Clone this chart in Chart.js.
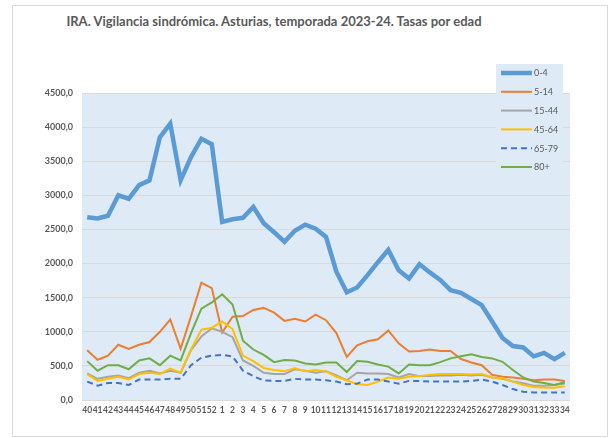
<!DOCTYPE html>
<html>
<head>
<meta charset="utf-8">
<script src="https://cdn.jsdelivr.net/npm/chart.js@4/dist/chart.umd.min.js"></script>
<style>
  html, body { margin: 0; padding: 0; background: #fff; }
  #wrap { position: relative; width: 610px; height: 438px; }
  #frame { position: absolute; left: 12px; top: 5px; width: 596px; height: 432px; border: 1px solid #d9d9d9; box-sizing: border-box; }
  #title { position: absolute; left: 12px; width: 524px; top: 13px; text-align: center; font: bold 13px Lato, sans-serif; color: #595959; }
  canvas { position: absolute; left: 0; top: 0; }
</style>
</head>
<body>
<div id="wrap">
  <div id="frame"></div>
  <div id="title">IRA. Vigilancia sindrómica. Asturias, temporada 2023-24. Tasas por edad</div>
  <canvas id="myChart" width="610" height="438"></canvas>
</div>
<script>
// semanas epidemiológicas
const weeks = ['40', '41', '42', '43', '44', '45', '46', '47', '48', '49', '50', '51', '52',
  '1', '2', '3', '4', '5', '6', '7', '8', '9', '10', '11', '12', '13', '14', '15', '16', '17',
  '18', '19', '20', '21', '22', '23', '24', '25', '26', '27', '28', '29', '30', '31', '32', '33', '34']

const ageGroups = ['0-4', '5-14', '15-44', '45-64', '65-79', '80+']

const rate0_4 = [2680, 2660, 2700, 3000, 2950, 3150, 3220, 3850, 4050, 3220, 3560, 3830, 3750,
  2610, 2650, 2670, 2830, 2590, 2460, 2320, 2480, 2570, 2510, 2390, 1880, 1580, 1650, 1830, 2020,
  2200, 1900, 1780, 1990, 1870, 1760, 1610, 1570, 1480, 1390, 1150, 910, 790, 770, 640, 690, 600, 690]
const rate5_14 = [730, 590, 650, 810, 750, 810, 850, 1000, 1180, 750, 1230, 1720, 1640,
  990, 1220, 1230, 1320, 1350, 1280, 1160, 1190, 1150, 1250, 1170, 980, 630, 800, 860, 890,
  1020, 830, 710, 720, 740, 720, 720, 600, 550, 510, 370, 340, 330, 310, 290, 300, 300, 280]
const rate15_44 = [390, 310, 340, 360, 320, 400, 430, 390, 430, 400, 730, 930, 1050,
  1000, 920, 580, 500, 400, 380, 380, 450, 430, 400, 420, 360, 290, 400, 390, 390,
  380, 330, 380, 350, 350, 360, 360, 370, 360, 370, 330, 310, 270, 245, 210, 210, 220, 240]
const rate45_64 = [380, 280, 310, 340, 300, 380, 400, 380, 460, 400, 740, 1030, 1060,
  1150, 1040, 650, 570, 470, 440, 420, 470, 420, 440, 420, 340, 290, 230, 220, 270,
  330, 310, 340, 350, 370, 380, 380, 380, 375, 380, 330, 320, 270, 220, 190, 180, 180, 200]
const rate65_79 = [270, 210, 250, 250, 220, 300, 300, 300, 310, 310, 510, 620, 650,
  660, 640, 430, 350, 285, 280, 280, 310, 300, 300, 290, 270, 230, 240, 300, 300,
  270, 240, 280, 280, 270, 270, 270, 270, 280, 300, 270, 220, 160, 120, 110, 110, 110, 110]
const rate80 = [570, 430, 510, 510, 450, 580, 610, 510, 650, 580, 980, 1340, 1430,
  1550, 1400, 870, 740, 660, 555, 585, 580, 535, 520, 550, 550, 410, 570, 560, 520,
  490, 390, 520, 510, 510, 555, 610, 640, 670, 630, 610, 560, 440, 330, 270, 250, 220, 260]

const plotBg = '#DEEBF7'
const textColor = '#595959'

// fondo del área de trazado
const plotArea = {
  id: 'plotArea',
  beforeDraw(chart) {
    const { ctx, chartArea: a } = chart
    ctx.save()
    ctx.fillStyle = plotBg
    ctx.fillRect(a.left, a.top, a.right - a.left, a.bottom - a.top)
    ctx.restore()
  }
}

// leyenda dentro del gráfico, arriba a la derecha
const legendBox = {
  id: 'legendBox',
  afterDraw(chart) {
    const ctx = chart.ctx
    ctx.save()
    ctx.fillStyle = plotBg
    ctx.fillRect(496, 64, 67, 119)
    ctx.font = '9px Lato, sans-serif'
    ctx.textBaseline = 'middle'
    chart.data.datasets.forEach((ds, i) => {
      const y = 73 + i * 18.8
      ctx.strokeStyle = ds.borderColor
      ctx.lineWidth = ds.borderWidth
      ctx.setLineDash(ds.borderDash || [])
      ctx.beginPath()
      ctx.moveTo(501, y)
      ctx.lineTo(532, y)
      ctx.stroke()
      ctx.fillStyle = textColor
      ctx.fillText(ds.label, 534, y + 0.5)
    })
    ctx.restore()
  }
}

const ctx = document.getElementById('myChart')
const myChart = new Chart(ctx, {
  type: 'line',
  data: {
    labels: weeks,
    datasets: [
      { label: ageGroups[0], data: rate0_4, borderColor: '#5B9BD5', borderWidth: 4.5 },
      { label: ageGroups[1], data: rate5_14, borderColor: '#ED7D31', borderWidth: 2 },
      { label: ageGroups[2], data: rate15_44, borderColor: '#A5A5A5', borderWidth: 2 },
      { label: ageGroups[3], data: rate45_64, borderColor: '#FFC000', borderWidth: 2 },
      { label: ageGroups[4], data: rate65_79, borderColor: '#4472C4', borderWidth: 2, borderDash: [6, 4] },
      { label: ageGroups[5], data: rate80, borderColor: '#70AD47', borderWidth: 2 }
    ].map((ds, i) => Object.assign(ds, { pointRadius: 0, tension: 0, fill: false, order: 6 - i }))
  },
  options: {
    responsive: false,
    animation: false,
    devicePixelRatio: 1,
    layout: { padding: { left: 12, right: 40, top: 93, bottom: 18 } },
    plugins: {
      legend: { display: false },
      title: { display: false },
      tooltip: { enabled: false }
    },
    scales: {
      x: {
        offset: true,
        grid: { display: false, drawTicks: false },
        border: { display: false },
        ticks: {
          autoSkip: false,
          maxRotation: 0,
          minRotation: 0,
          padding: 5,
          color: textColor,
          font: { family: 'Lato', size: 8.5, weight: 'bold' }
        },
        afterFit(scale) { scale.height = 20 }
      },
      y: {
        min: 0,
        max: 4500,
        grid: { color: '#D9D9D9', lineWidth: 1, drawTicks: false },
        border: { display: false },
        ticks: {
          stepSize: 500,
          padding: 9,
          color: textColor,
          font: { family: 'Lato', size: 9, weight: 'bold' },
          callback: v => v.toFixed(1).replace('.', ',')
        },
        afterFit(scale) { scale.width = 70 }
      }
    }
  },
  plugins: [plotArea, legendBox]
})
</script>
</body>
</html>
